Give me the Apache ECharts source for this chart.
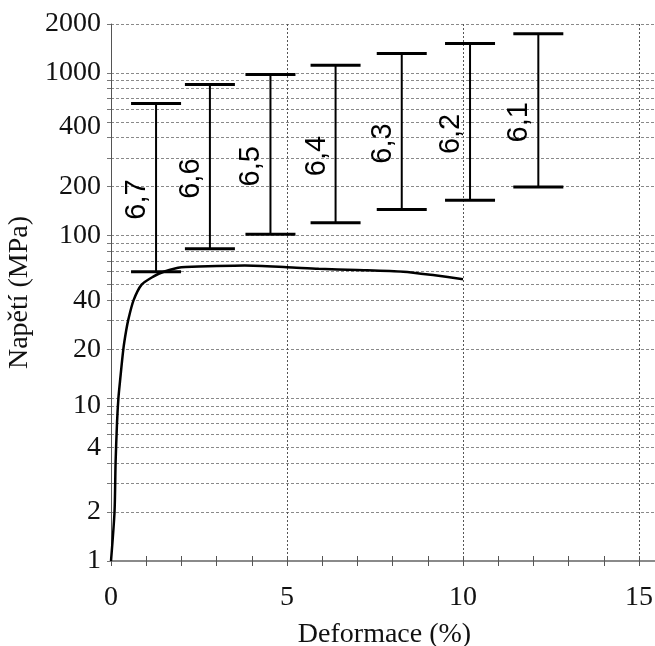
<!DOCTYPE html>
<html>
<head>
<meta charset="utf-8">
<script src="https://cdn.jsdelivr.net/npm/echarts@6/dist/echarts.min.js"></script>
<style>
  html, body { margin: 0; padding: 0; background: #fff; }
  #chart { width: 655px; height: 646px; }
</style>
</head>
<body>
<div id="chart"></div>
<script>
// Stress-strain curve (Deformace %, Napětí MPa)
const strainX = [0, 0.1, 0.13, 0.17, 0.21, 0.26, 0.35, 0.43, 0.5, 0.64, 0.87, 1.2, 1.5, 2.0, 3.0, 3.8, 5.0, 5.9, 7.0, 8.3, 9.2, 10.0];
const stressY = [1, 2, 4, 7, 10, 13, 20, 26, 31, 40, 50, 56, 60, 64, 65, 65.5, 64, 62.5, 61.5, 60, 57, 54];

// Range bars with labels
const barX     = [1.28, 2.81, 4.53, 6.38, 8.26, 10.2, 12.14];
const barLow   = [60, 83, 102, 120, 145, 165, 199];
const barHigh  = [650, 850, 980, 1115, 1315, 1515, 1745];
const barLabels = ['6,7', '6,6', '6,5', '6,4', '6,3', '6,2', '6,1'];

// Axis ticks / labels
const xTickValues  = [0,1,2,3,4,5,6,7,8,9,10,11,12,13,14,15];
const xLabelValues = [0, 5, 10, 15];
const xGridValues  = [5, 10, 15];
const yGridValues  = [1,2,3,4,5,6,7,8,9,10,20,30,40,50,60,70,80,90,100,200,300,400,500,600,700,800,900,1000,2000];
const yLabelPos    = [1, 2, 5, 9, 20, 40, 100, 200, 470, 1000, 2000];
const yLabelText   = ['1', '2', '4', '10', '20', '40', '100', '200', '400', '1000', '2000'];

const serif = '"Liberation Serif", "Times New Roman", serif';
const sans = '"Liberation Sans", Arial, sans-serif';

const chart = echarts.init(document.getElementById('chart'), null, { renderer: 'canvas' });

const barData = barX.map((x, i) => [x, barLow[i], barHigh[i]]);
const xMax = 15.54;

const option = {
  animation: false,
  backgroundColor: '#ffffff',
  grid: { left: 111, right: -3, top: 24, bottom: 85, containLabel: false, outerBoundsMode: 'none' },
  xAxis: [
    {
      type: 'value', min: 0, max: xMax, position: 'bottom',
      name: 'Deformace (%)', nameLocation: 'middle', nameGap: 60,
      nameTextStyle: { fontFamily: serif, fontSize: 28, color: '#111' },
      axisLine: { show: true, lineStyle: { color: '#8a8a8a', width: 2 } },
      axisTick: { show: true, inside: false, length: 5, customValues: xTickValues, lineStyle: { color: '#555', width: 1 } },
      axisLabel: { show: true, customValues: xLabelValues, margin: 23, fontFamily: serif, fontSize: 28, color: '#111' },
      splitLine: { show: false }
    },
    {
      type: 'value', min: 0, max: xMax, position: 'bottom',
      axisLine: { show: false },
      axisTick: { show: true, inside: true, length: 5, customValues: xTickValues, lineStyle: { color: '#555', width: 1 } },
      axisLabel: { show: false },
      splitLine: { show: false }
    },
    {
      type: 'value', min: 0, max: xMax, position: 'bottom',
      axisLine: { show: false },
      axisTick: { show: false, customValues: xGridValues },
      axisLabel: { show: false },
      splitLine: { show: true, lineStyle: { color: '#555', width: 1, type: [2, 2] } }
    }
  ],
  yAxis: {
    type: 'log', logBase: 10, min: 1, max: 2000,
    name: 'Napětí (MPa)', nameLocation: 'middle', nameGap: 76, nameRotate: 90,
    nameTextStyle: { fontFamily: serif, fontSize: 28, color: '#111' },
    axisLine: { show: true, lineStyle: { color: '#555', width: 1 } },
    axisTick: { show: true, inside: false, length: 4, customValues: yGridValues, lineStyle: { color: '#777', width: 1 } },
    axisLabel: {
      show: true, customValues: yLabelPos, margin: 10,
      fontFamily: serif, fontSize: 28, color: '#111',
      formatter: function (v) {
        let best = 0, bd = Infinity;
        yLabelPos.forEach((p, i) => { const d = Math.abs(Math.log(p) - Math.log(v)); if (d < bd) { bd = d; best = i; } });
        return yLabelText[best];
      }
    },
    splitLine: { show: true, lineStyle: { color: '#8a8a8a', width: 1, type: [3, 2] } },
    minorTick: { show: false }, minorSplitLine: { show: false }
  },
  series: [
    {
      type: 'line', xAxisIndex: 0,
      data: strainX.map((x, i) => [x, stressY[i]]),
      showSymbol: false, smooth: 0.25,
      lineStyle: { color: '#000', width: 2.5 },
      z: 5
    },
    {
      type: 'custom', xAxisIndex: 0,
      data: barData,
      encode: { x: 0, y: [1, 2] },
      renderItem: function (params, api) {
        const x = api.value(0), lo = api.value(1), hi = api.value(2);
        const pLo = api.coord([x, lo]);
        const pHi = api.coord([x, hi]);
        const half = 25;
        const mid = (pLo[1] + pHi[1]) / 2;
        return {
          type: 'group',
          children: [
            { type: 'line', shape: { x1: pLo[0], y1: pLo[1], x2: pHi[0], y2: pHi[1] }, style: { stroke: '#000', lineWidth: 2 } },
            { type: 'line', shape: { x1: pHi[0] - half, y1: pHi[1], x2: pHi[0] + half, y2: pHi[1] }, style: { stroke: '#000', lineWidth: 3 } },
            { type: 'line', shape: { x1: pLo[0] - half, y1: pLo[1], x2: pLo[0] + half, y2: pLo[1] }, style: { stroke: '#000', lineWidth: 3 } },
            {
              type: 'text', x: pLo[0] - 19, y: mid + 12, rotation: Math.PI / 2,
              style: { text: barLabels[params.dataIndex], font: '29px ' + sans, fill: '#000', align: 'center', verticalAlign: 'middle' }
            }
          ]
        };
      },
      z: 6
    }
  ]
};

chart.setOption(option);
</script>
</body>
</html>
